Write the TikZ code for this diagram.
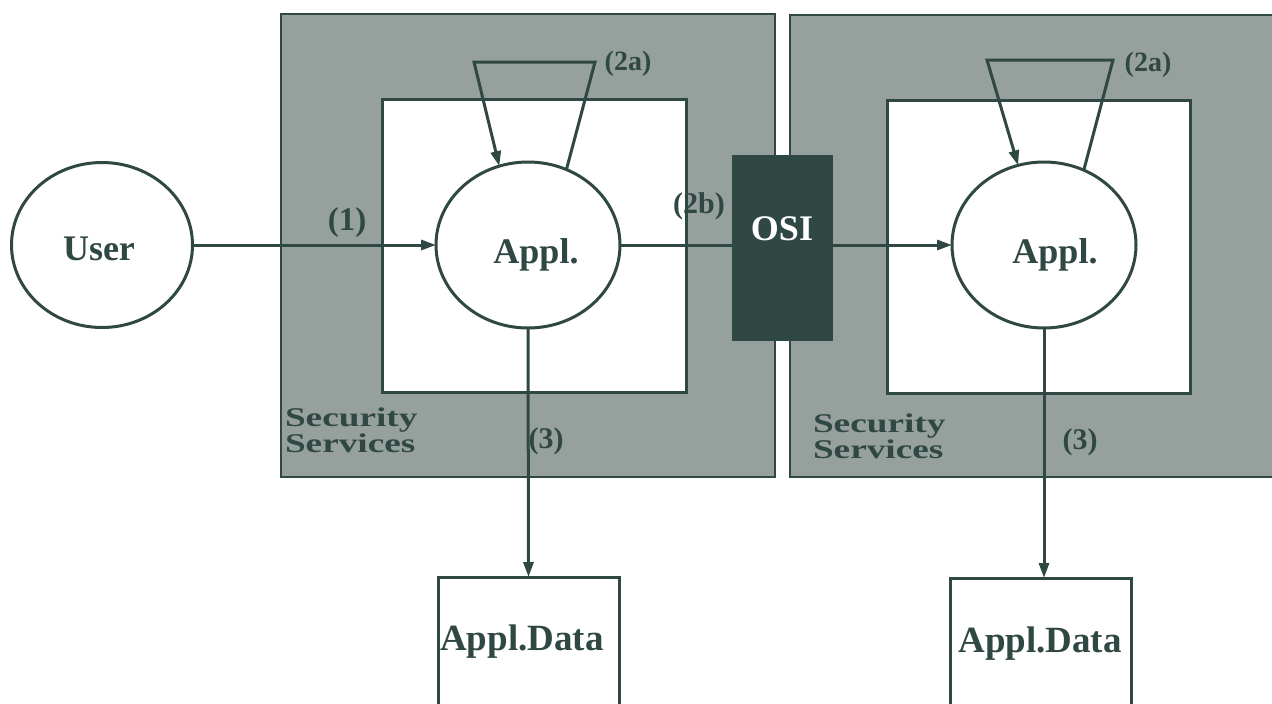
\documentclass[tikz,border=0pt]{standalone}
\usepackage{fontspec}
\setmainfont{Liberation Serif}
\newfontfamily\widefont[FakeStretch=1.38]{Liberation Serif}
\newcommand\svcfont{\fontsize{27}{26}\selectfont\widefont\bfseries\lineskiplimit-60pt\relax}
\usetikzlibrary{arrows.meta,shapes.geometric,calc}
\definecolor{ink}{RGB}{48,72,67}
\definecolor{shade}{RGB}{150,160,157}
\begin{document}
\begin{tikzpicture}[x=1pt,y=-1pt,
  every node/.style={inner sep=0pt, outer sep=0pt},
  shell/.style={draw=ink, fill=shade, line width=2.4pt},
  core/.style={draw=ink, fill=white, line width=3pt},
  proc/.style={ellipse, draw=ink, fill=white, line width=3pt,
    minimum width=184pt, minimum height=166pt},
  store/.style={rectangle, draw=ink, fill=white, line width=3pt,
    minimum width=181pt, minimum height=140pt, anchor=north},
  osibox/.style={rectangle, fill=ink, draw=ink,
    minimum width=100pt, minimum height=185pt},
  bigtext/.style={font=\fontsize{36}{36}\selectfont\bfseries, text=ink, anchor=base},
  tagtext/.style={font=\fontsize{30}{30}\selectfont\bfseries, text=ink, anchor=base},
  svctext/.style={font=\svcfont, text=ink, align=left, anchor=north west},
  flow/.style={draw=ink, line width=3pt, -{Triangle[length=15pt,width=10pt]}},
  wire/.style={draw=ink, line width=3pt},
]
\useasboundingbox (0,0) rectangle (1272,704);

% security service shells with their inner application areas
\path[shell] (281,14) rectangle (775,477);
\path[shell] (790,15) rectangle (1290,477);
\path[core] (382,99) rectangle (686,392);
\path[core] (887,100) rectangle (1190,393);

% processes, OSI layer and data stores
\node[proc, minimum width=181pt, minimum height=165pt] (u) at (102,245) {};
\node[proc] (a1) at (528,245) {};
\node[proc] (a2) at (1044,245) {};
\node[osibox] (osi) at (782,247.5) {};
\node[store] (d1) at (528.5,577) {};
\node[store] (d2) at (1041,578) {};

% flows
\draw[flow] (u.east) -- (a1.west);
\draw[wire] (a1.east) -- (a1.east -| osi.west);
\draw[flow] (osi.east |- a2.west) -- (a2.west);
\draw[flow] (a1.south) -- (d1.north);
\draw[flow] (a2.south) -- (a2.south |- d2.north);

% security service loops (2a)
\coordinate (t1l) at (474,62);
\coordinate (t1r) at (595,62);
\coordinate (t2l) at (987,60);
\coordinate (t2r) at (1113,60);
\draw[flow, line join=miter] (a1.63) -- (t1r) -- (t1l) -- (a1.110);
\draw[flow, line join=miter] (a2.62) -- (t2r) -- (t2l) -- (a2.108);

% texts
\node[bigtext] (tu) at (99,260) {User};
\node[bigtext] (ta1) at (536,263) {Appl.};
\node[bigtext] (ta2) at (1055,263) {Appl.};
\node[bigtext, text=white] (tosi) at (782,240) {OSI};
\node[bigtext, font=\fontsize{37}{37}\selectfont\bfseries] (td1) at (522,650) {Appl.Data};
\node[bigtext, font=\fontsize{37}{37}\selectfont\bfseries] (td2) at (1040,652) {Appl.Data};

\node[tagtext, font=\fontsize{33}{33}\selectfont\bfseries] (l1) at (347,230) {(1)};
\node[tagtext, font=\fontsize{28}{28}\selectfont\bfseries] (l2a) at (628,70) {(2a)};
\node[tagtext, font=\fontsize{28}{28}\selectfont\bfseries] (l2c) at (1148,71) {(2a)};
\node[tagtext] (l2b) at (699,213) {(2b)};
\node[tagtext] (l3) at (546,448) {(3)};
\node[tagtext] (l3b) at (1080,449) {(3)};

\node[svctext] (s1) at (285,408) {Security\\Services};
\node[svctext] (s2) at (813,414) {Security\\Services};
\end{tikzpicture}
\end{document}
